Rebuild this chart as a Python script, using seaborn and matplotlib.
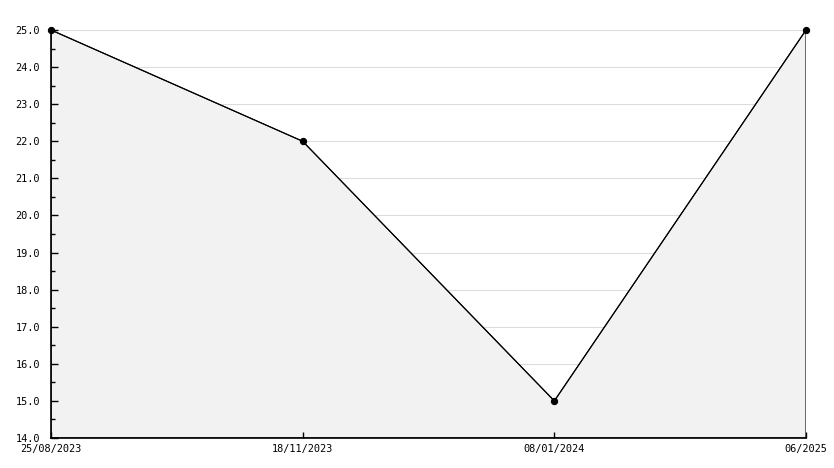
import numpy as np
import pandas as pd
import matplotlib
matplotlib.use("Agg")
import matplotlib.pyplot as plt
import seaborn as sns
from matplotlib.ticker import MultipleLocator, FormatStrFormatter

# data
dates = ["25/08/2023", "18/11/2023", "08/01/2024", "06/2025"]
values = [25.0, 22.0, 15.0, 25.0]

sns.set_style("white")
plt.rcParams['font.family'] = ['DejaVu Sans Mono']
plt.rcParams['text.color'] = "black"
plt.rcParams['xtick.color'] = "black"
plt.rcParams['ytick.color'] = "black"

df = pd.DataFrame({"pos": np.arange(len(dates)), "value": values})

fig = plt.figure(figsize=(8.34, 4.68), dpi=100)
ax = fig.add_axes([51 / 834, 1 - 438 / 468, 755 / 834, 408 / 468])
ax.set_axisbelow(False)  # ticks must sit on top of the fill

ymin, ymax = 14.0, 25.0

# filled area under the line, outlined in black
poly_x = np.concatenate([[df["pos"].iloc[0]], df["pos"], [df["pos"].iloc[-1]]])
poly_y = np.concatenate([[ymin], df["value"], [ymin]])
ax.fill(poly_x, poly_y, facecolor="#f2f2f2", edgecolor="black", linewidth=0.8, zorder=1)

sns.lineplot(data=df, x="pos", y="value", ax=ax, color="black", linewidth=0.8,
             marker="o", markersize=4.5, markeredgecolor="black", zorder=3,
             clip_on=False)

ax.set_xlim(0, len(dates) - 1)
ax.set_ylim(ymin, ymax)
ax.set_xticks(df["pos"])
ax.set_xticklabels(dates)
ax.yaxis.set_major_locator(MultipleLocator(1.0))
ax.yaxis.set_minor_locator(MultipleLocator(0.5))
ax.yaxis.set_major_formatter(FormatStrFormatter("%.1f"))

# horizontal grid lines hidden behind the fill
for yv in ax.get_yticks():
    if ymin < yv <= ymax:
        ax.axhline(yv, color="#dcdcdc", linewidth=0.8, zorder=0)

ax.tick_params(axis="y", which="major", direction="in", length=5, width=1,
               labelsize=7.4, pad=8, left=True, labelcolor="black")
ax.tick_params(axis="y", which="minor", direction="in", length=3, width=1, left=True)
ax.tick_params(axis="x", which="major", direction="in", length=4, width=1,
               labelsize=7.4, pad=4, bottom=True, labelcolor="black")

ax.set_xlabel("")
ax.set_ylabel("")

for side in ["top", "right"]:
    ax.spines[side].set_visible(False)
for side in ["left", "bottom"]:
    ax.spines[side].set_color("black")
    ax.spines[side].set_linewidth(1.2)

fig.savefig("out.png", dpi=100)
